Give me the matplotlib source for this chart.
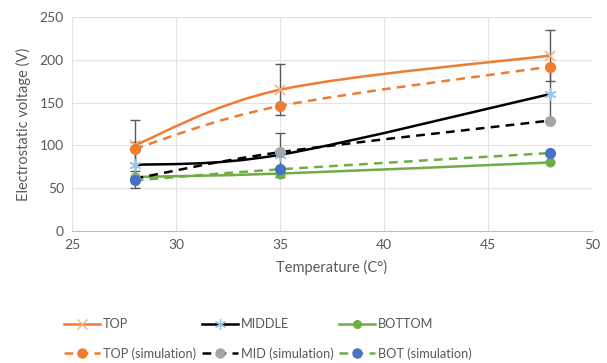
import matplotlib
matplotlib.use("Agg")
import matplotlib.pyplot as plt
from matplotlib.path import Path
from matplotlib.patches import PathPatch
from matplotlib.lines import Line2D

plt.rcParams["font.family"] = ["Lato", "DejaVu Sans"]

# Data
temperature = [28, 35, 48]
top = [100, 165, 205]
middle = [77, 89, 160]
bottom = [63, 67, 80]
top_sim = [96, 146, 192]
mid_sim = [61, 92, 129]
bot_sim = [59, 72, 91]
top_err = [30, 30, 30]
middle_err = [27, 26, 30]

ORANGE = "#ED7D31"
GREEN = "#70AD47"
BLACK = "#000000"
GREY = "#A5A5A5"
BLUE = "#4472C4"
TEXT = "#595959"
DASH = (0, (3.5, 2.5))


def smooth_path(xs, ys):
    # Excel-style smoothed line: cubic Bezier segments with Catmull-Rom tangents
    pts = list(zip(xs, ys))
    n = len(pts)
    verts = [pts[0]]
    codes = [Path.MOVETO]
    for i in range(n - 1):
        p0 = pts[max(i - 1, 0)]
        p1 = pts[i]
        p2 = pts[i + 1]
        p3 = pts[min(i + 2, n - 1)]
        c1 = (p1[0] + (p2[0] - p0[0]) / 6, p1[1] + (p2[1] - p0[1]) / 6)
        c2 = (p2[0] - (p3[0] - p1[0]) / 6, p2[1] - (p3[1] - p1[1]) / 6)
        verts += [c1, c2, p2]
        codes += [Path.CURVE4] * 3
    return Path(verts, codes)


def draw_series(ax, ys, color, dashed, marker, mcolor, msize, mew=1.2):
    ls = DASH if dashed else "-"
    patch = PathPatch(smooth_path(temperature, ys), facecolor="none",
                      edgecolor=color, lw=1.8, linestyle=ls, capstyle="butt", zorder=3)
    ax.add_patch(patch)
    ax.plot(temperature, ys, linestyle="none", marker=marker, color=mcolor,
            markersize=msize, markeredgewidth=mew, zorder=4)


fig = plt.figure(figsize=(6.07, 3.63), dpi=100)
ax = fig.add_axes([0.119, 0.364, 0.856, 0.589])

ax.errorbar(temperature, top, yerr=top_err, fmt="none", ecolor=TEXT,
            elinewidth=1, capsize=3.5, capthick=1, zorder=2)
ax.errorbar(temperature, middle, yerr=middle_err, fmt="none", ecolor=TEXT,
            elinewidth=1, capsize=3.5, capthick=1, zorder=2)

draw_series(ax, top, ORANGE, False, "x", "#F4B183", 7.5)
draw_series(ax, middle, BLACK, False, (6, 2, 0), "#9DC3E6", 8.5)
draw_series(ax, bottom, GREEN, False, "o", GREEN, 6)
draw_series(ax, top_sim, ORANGE, True, "o", ORANGE, 6.8)
draw_series(ax, mid_sim, BLACK, True, "o", GREY, 6.8)
draw_series(ax, bot_sim, GREEN, True, "o", BLUE, 6.8)

ax.set_xlim(25, 50)
ax.set_ylim(0, 250)
ax.set_xticks([25, 30, 35, 40, 45, 50])
ax.set_yticks([0, 50, 100, 150, 200, 250])
ax.grid(True, color="#E3E3E3", lw=0.8)
ax.set_axisbelow(True)
for s in ["top", "right", "left"]:
    ax.spines[s].set_visible(False)
ax.spines["bottom"].set_color("#BFBFBF")
ax.tick_params(length=0, labelsize=10, colors=TEXT, pad=6)
ax.set_xlabel("Temperature (C°)", fontsize=10.5, color=TEXT, labelpad=6)
ax.set_ylabel("Electrostatic voltage (V)", fontsize=10.5, color=TEXT, labelpad=6)

handles = [
    Line2D([], [], color=ORANGE, lw=1.8, marker="x", markeredgecolor="#F4B183", markersize=7),
    Line2D([], [], color=ORANGE, lw=1.8, ls=DASH, marker="o", markerfacecolor=ORANGE,
           markeredgecolor=ORANGE, markersize=6.5),
    Line2D([], [], color=BLACK, lw=1.8, marker=(6, 2, 0), markeredgecolor="#9DC3E6", markersize=8),
    Line2D([], [], color=BLACK, lw=1.8, ls=DASH, marker="o", markerfacecolor=GREY,
           markeredgecolor=GREY, markersize=6.5),
    Line2D([], [], color=GREEN, lw=1.8, marker="o", markersize=5.5),
    Line2D([], [], color=GREEN, lw=1.8, ls=DASH, marker="o", markerfacecolor=BLUE,
           markeredgecolor=BLUE, markersize=6.5),
]
labels = ["TOP", "TOP (simulation)", "MIDDLE", "MID (simulation)", "BOTTOM", "BOT (simulation)"]
leg = fig.legend(handles, labels, loc="lower left", bbox_to_anchor=(0.1, 0.0), ncol=3,
                 frameon=False, fontsize=9.2, handlelength=2.8, handletextpad=0.25,
                 columnspacing=0.45, labelspacing=1.35, numpoints=1, borderpad=0.25,
                 borderaxespad=0)
for t in leg.get_texts():
    t.set_color(TEXT)

fig.savefig("out.png", dpi=100)
